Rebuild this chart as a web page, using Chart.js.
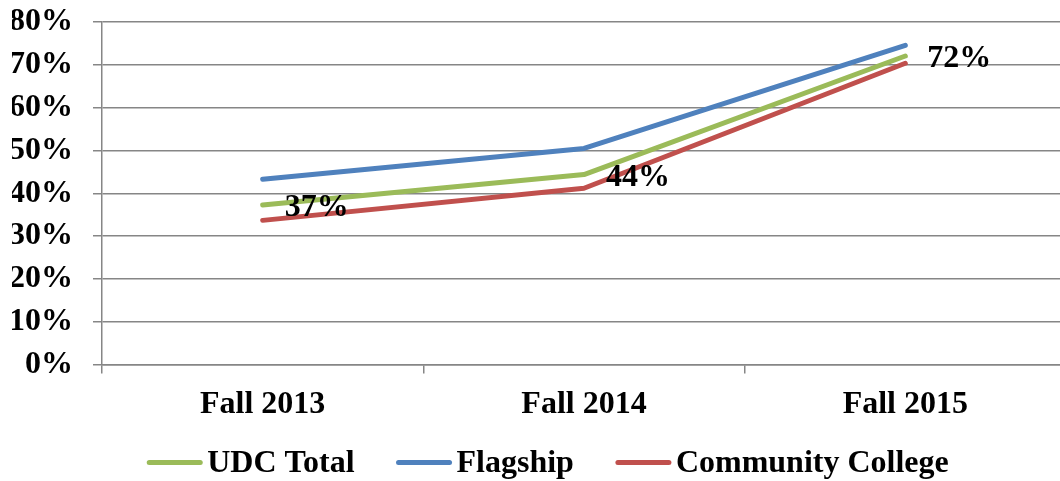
<!DOCTYPE html>
<html>
<head>
<meta charset="utf-8">
<script src="https://cdn.jsdelivr.net/npm/chart.js@4/dist/chart.umd.min.js"></script>
<style>
  html, body { margin: 0; padding: 0; background: #fff; overflow: hidden; }
  #wrap { position: relative; width: 1060px; height: 481px; overflow: hidden; }
  #rateChart { position: absolute; left: 0; top: -17px; }
</style>
</head>
<body>
<div id="wrap"><canvas id="rateChart" width="1070" height="498"></canvas></div>
<script>
const categories = ['Fall 2013', 'Fall 2014', 'Fall 2015'];
const udcTotal = [37.3, 44.4, 72.1];
const flagship = [43.3, 50.5, 74.6];
const communityCollege = [33.7, 41.2, 70.4];
const udcLabels = ['37%', '44%', '72%'];
const yTicks = [0, 10, 20, 30, 40, 50, 60, 70, 80];

const serif = '"Liberation Serif", "Times New Roman", serif';
const fontSize = 32;

// value labels next to the UDC Total points
const valueLabels = {
    id: 'valueLabels',
    afterDatasetsDraw(chart) {
        const ctx = chart.ctx;
        const meta = chart.getDatasetMeta(0);
        ctx.save();
        ctx.font = 'bold ' + fontSize + 'px ' + serif;
        ctx.fillStyle = '#000';
        ctx.textAlign = 'left';
        ctx.textBaseline = 'middle';
        meta.data.forEach((pt, i) => {
            ctx.fillText(udcLabels[i], pt.x + 22, pt.y + 3);
        });
        ctx.restore();
    }
};

// legend drawn like the office one: short thick line, tight gap to text
const lineLegend = {
    id: 'lineLegend',
    afterDraw(chart) {
        const ctx = chart.ctx;
        ctx.save();
        ctx.font = 'bold ' + fontSize + 'px ' + serif;
        const lineLen = 55, gap = 5, itemGap = 42;
        const items = chart.data.datasets.map(ds => ({
            text: ds.label, color: ds.borderColor, w: ctx.measureText(ds.label).width
        }));
        let total = 0;
        items.forEach((it, i) => { total += lineLen + gap + it.w + (i < items.length - 1 ? itemGap : 0); });
        let x = 548 - total / 2;
        const y = chart.chartArea.bottom + 98;
        items.forEach(it => {
            ctx.strokeStyle = it.color;
            ctx.lineWidth = 5;
            ctx.lineCap = 'round';
            ctx.beginPath();
            ctx.moveTo(x + 2, y);
            ctx.lineTo(x + lineLen - 2, y);
            ctx.stroke();
            ctx.fillStyle = '#000';
            ctx.textBaseline = 'middle';
            ctx.fillText(it.text, x + lineLen + gap, y + 1);
            x += lineLen + gap + it.w + itemGap;
        });
        ctx.restore();
    }
};

function lineSet(label, data, color) {
    return {
        label: label,
        data: data,
        borderColor: color,
        backgroundColor: color,
        borderWidth: 5,
        borderCapStyle: 'round',
        borderJoinStyle: 'round',
        pointRadius: 0,
        pointHoverRadius: 0,
        tension: 0,
        fill: false
    };
}

const ctx = document.getElementById('rateChart').getContext('2d');
new Chart(ctx, {
    type: 'line',
    data: {
        labels: categories,
        datasets: [
            lineSet('UDC Total', udcTotal, '#9BBB59'),
            lineSet('Flagship', flagship, '#4F81BD'),
            lineSet('Community College', communityCollege, '#C0504D')
        ]
    },
    options: {
        responsive: false,
        animation: false,
        layout: { padding: { left: 12, right: 4, top: 0, bottom: 45 } },
        plugins: {
            legend: { display: false },
            tooltip: { enabled: false }
        },
        scales: {
            x: {
                offset: true,
                grid: {
                    offset: true,
                    drawOnChartArea: false,
                    drawTicks: true,
                    tickLength: 9,
                    color: '#868686',
                    lineWidth: 1.5
                },
                border: { display: true, color: '#868686', width: 1.5 },
                ticks: {
                    color: '#000',
                    padding: 12,
                    maxRotation: 0,
                    autoSkip: false,
                    font: { family: serif, size: fontSize, weight: 'bold' }
                }
            },
            y: {
                min: 0,
                max: 80,
                afterBuildTicks(scale) {
                    scale.ticks = yTicks.map(v => ({ value: v }));
                },
                afterFit(scale) {
                    scale.width = 90;
                },
                grid: {
                    drawTicks: true,
                    tickLength: 9,
                    color: '#868686',
                    lineWidth: 1.5
                },
                border: { display: true, color: '#868686', width: 1.5 },
                ticks: {
                    color: '#000',
                    padding: 20,
                    autoSkip: false,
                    font: { family: serif, size: fontSize, weight: 'bold' },
                    callback: v => v + '%'
                }
            }
        }
    },
    plugins: [valueLabels, lineLegend]
});
</script>
</body>
</html>
